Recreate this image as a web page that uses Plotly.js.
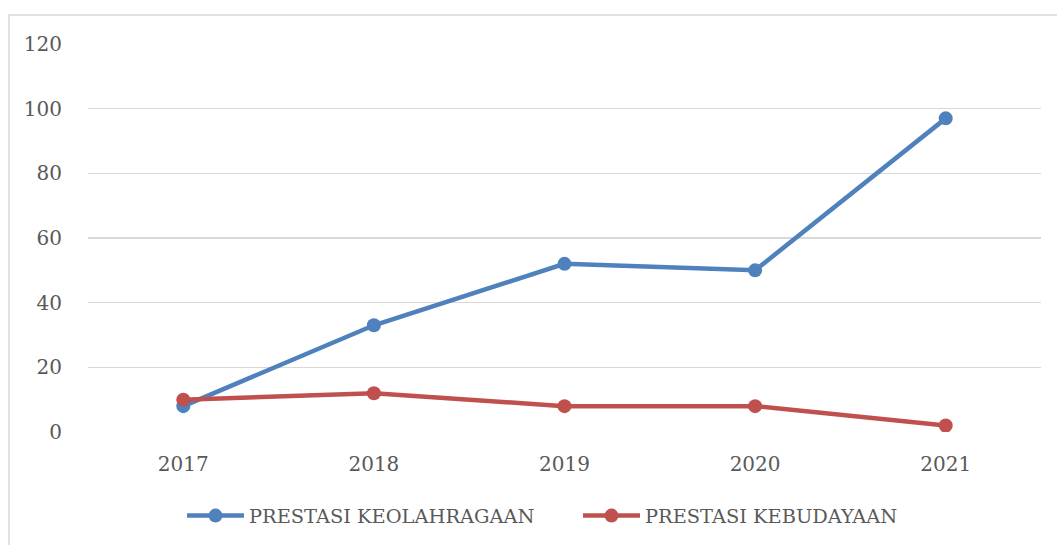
<!DOCTYPE html>
<html><head><meta charset="utf-8">
<script src="https://cdn.plot.ly/plotly-3.0.1.min.js"></script>
<style>html,body{margin:0;padding:0;background:#fff}#chart{width:1057px;height:545px}</style>
</head><body><div id="chart"></div>
<script>
const years = ['2017','2018','2019','2020','2021'];
const olahraga = [8, 33, 52, 50, 97];
const budaya = [10, 12, 8, 8, 2];
const seriesNames = ['PRESTASI KEOLAHRAGAAN', 'PRESTASI KEBUDAYAAN'];
const yTicks = [0, 20, 40, 60, 80, 100, 120];

const tickFont = {family: 'DejaVu Serif, serif', size: 20, color: '#595959'};
const legFont = {family: 'DejaVu Serif, serif', size: 19.4, color: '#595959'};
const traces = [
  {x: years, y: olahraga, name: seriesNames[0], type: 'scatter', mode: 'lines+markers',
   line: {color: '#4f81bd', width: 4.5}, marker: {color: '#4f81bd', size: 14}},
  {x: years, y: budaya, name: seriesNames[1], type: 'scatter', mode: 'lines+markers',
   line: {color: '#c0504d', width: 4.5}, marker: {color: '#c0504d', size: 14}}
];
const L = 88, R = 16, T = 44, B = 113, W = 1057, H = 545;
const pw = W - L - R, ph = H - T - B;
const layout = {
  width: W, height: H,
  margin: {l: L, r: R, t: T, b: B, pad: 0, autoexpand: false},
  paper_bgcolor: '#fff', plot_bgcolor: '#fff',
  font: tickFont,
  showlegend: true,
  legend: {orientation: 'h', xref: 'container', yref: 'container', x: 182 / W, xanchor: 'left',
           y: 1 - 516 / H, yanchor: 'middle',
           font: legFont, itemwidth: 57, entrywidth: 324, traceorder: 'normal'},
  xaxis: {type: 'category', range: [-0.5, 4.5], showgrid: false, zeroline: false, showline: false,
          ticks: 'outside', ticklen: 14, tickcolor: 'rgba(0,0,0,0)', tickfont: tickFont, fixedrange: true},
  yaxis: {range: [0, 120], tickvals: yTicks, showgrid: true, gridcolor: '#d9d9d9', gridwidth: 1.5,
          zeroline: false, showline: false, ticks: 'outside', ticklen: 21, tickcolor: 'rgba(0,0,0,0)',
          tickfont: tickFont, fixedrange: true},
  shapes: [{type: 'rect', xref: 'paper', yref: 'paper',
            x0: (9 - L) / pw, x1: (W + 2 - L) / pw,
            y0: (H - B - (H + 2)) / ph, y1: (H - B - 15) / ph,
            line: {color: '#d9d9d9', width: 1.5}, fillcolor: 'rgba(0,0,0,0)', layer: 'below'}]
};
Plotly.newPlot('chart', traces, layout, {displayModeBar: false, staticPlot: true});
</script></body></html>
